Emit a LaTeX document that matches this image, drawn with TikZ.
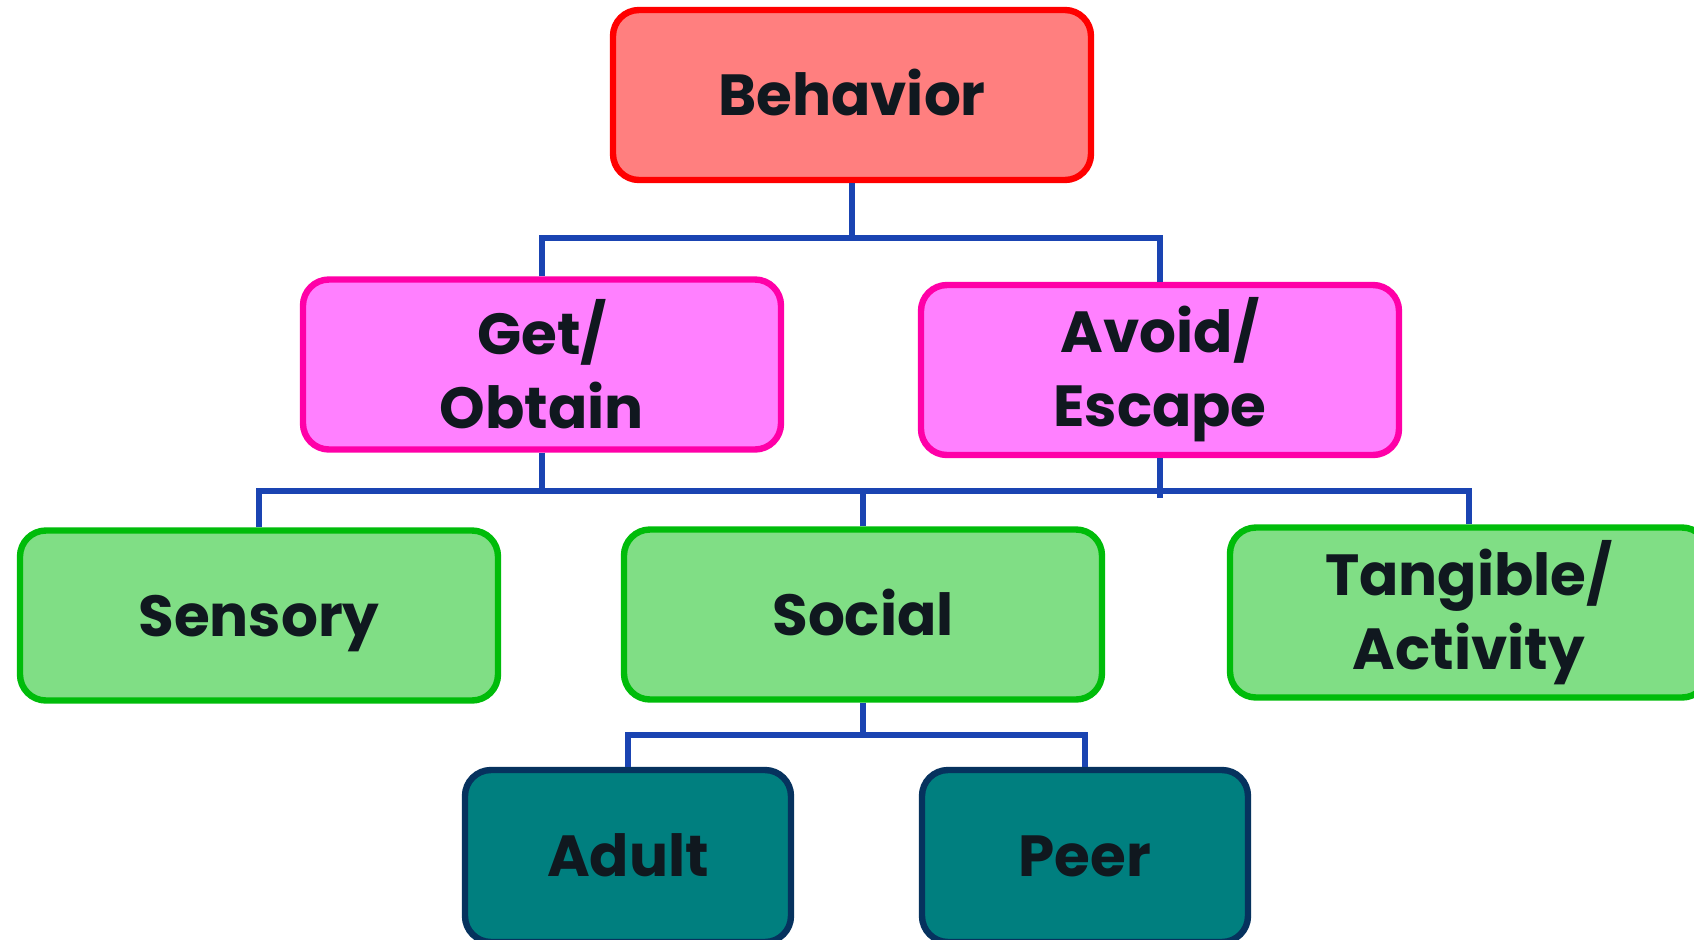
\documentclass[tikz,border=0pt]{standalone}
\usepackage{fontspec}
\setmainfont{Poppins}
\usetikzlibrary{positioning}
\definecolor{behfill}{HTML}{FF7F7F}
\definecolor{behline}{HTML}{FF0000}
\definecolor{funcfill}{HTML}{FF80FF}
\definecolor{funcline}{HTML}{FF00A8}
\definecolor{typefill}{HTML}{80DE85}
\definecolor{typeline}{HTML}{00BC0A}
\definecolor{subfill}{HTML}{007F7F}
\definecolor{subline}{HTML}{06325E}
\definecolor{linkcol}{HTML}{1A44B2}
\definecolor{txtcol}{HTML}{10181F}

\begin{document}
\begin{tikzpicture}[x=0.5pt, y=-0.5pt,
    box/.style={draw, rounded corners=13pt, line width=3.2pt, inner sep=0pt,
      minimum width=239pt, minimum height=85pt, align=center, text=txtcol,
      font=\fontsize{29}{37}\selectfont\bfseries},
    one line/.style={text height=20.5pt, text depth=0pt},
    small box/.style={box, one line, minimum width=163pt, minimum height=86pt},
    link/.style={draw=linkcol, line width=3.4pt}]
    \clip (0,0) rectangle (1694,939);
    \fill[white] (0,0) rectangle (1694,939);
    % top level
    \node [box, one line, fill=behfill, draw=behline] (beh) at (852,95) {Behavior};
    % functions
    \node [box, fill=funcfill, draw=funcline] (get) at (542,364.5) {Get/\\Obtain};
    \node [box, fill=funcfill, draw=funcline] (avoid) at (1160,370) {Avoid/\\Escape};
    % types
    \node [box, one line, fill=typefill, draw=typeline] (sens) at (259,615.5) {Sensory};
    \node [box, one line, fill=typefill, draw=typeline] (soc) at (863,614.5) {Social};
    \node [box, fill=typefill, draw=typeline] (tang) at (1469,612.5) {Tangible/\\Activity};
    % social
    \node [small box, fill=subfill, draw=subline] (adult) at (628,856) {Adult};
    \node [small box, fill=subfill, draw=subline] (peer) at (1085,856) {Peer};
    \coordinate (top bar) at (0,238);
    \coordinate (mid bar) at (0,491);
    \coordinate (low bar) at (0,735);
    \draw [link] (beh.south) -- (beh.south |- top bar);
    \draw [link] (get.north) |- (avoid.north |- top bar) -- (avoid.north);
    \draw [link] (get.south) -- (get.south |- mid bar);
    \draw [link] (avoid.south) -- ([yshift=-3.5pt]avoid.south |- mid bar);
    \draw [link] (sens.north) |- (tang.north |- mid bar) -- (tang.north);
    \draw [link] (soc.north) -- (soc.north |- mid bar);
    \draw [link] (soc.south) -- (soc.south |- low bar);
    \draw [link] (adult.north) |- (peer.north |- low bar) -- (peer.north);
  \end{tikzpicture}
\end{document}
